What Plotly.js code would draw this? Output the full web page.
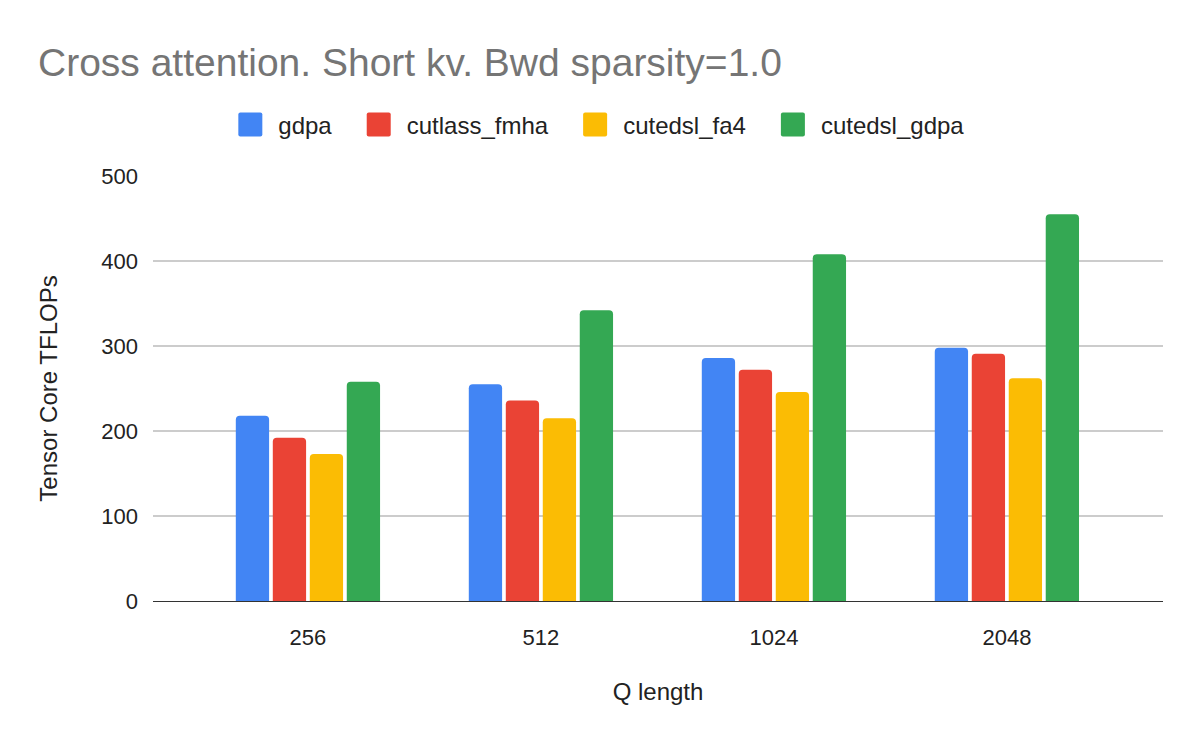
<!DOCTYPE html>
<html>
<head>
<meta charset="utf-8">
<script src="https://cdn.plot.ly/plotly-3.0.1.min.js"></script>
<style>
  html, body { margin: 0; padding: 0; background: #fff; }
  #chart { width: 1200px; height: 742px; }
</style>
</head>
<body>
<div id="chart"></div>
<script>
const qLengths = ["256", "512", "1024", "2048"];
const gdpa = [218, 255, 286, 298];
const cutlassFmha = [192, 236, 272, 291];
const cutedslFa4 = [173, 215, 246, 262];
const cutedslGdpa = [258, 342, 408, 455];

const seriesNames = ["gdpa", "cutlass_fmha", "cutedsl_fa4", "cutedsl_gdpa"];
const seriesColors = ["#4285f4", "#ea4335", "#fbbc04", "#34a853"];
const seriesValues = [gdpa, cutlassFmha, cutedslFa4, cutedslGdpa];

const font = "Arial, 'Liberation Sans', sans-serif";

const data = seriesValues.map((vals, i) => ({
  x: qLengths,
  y: vals,
  name: seriesNames[i],
  type: "bar",
  marker: { color: seriesColors[i], cornerradius: 4 },
}));

const layout = {
  width: 1200,
  height: 742,
  margin: { l: 153, r: 37, t: 176, b: 141 },
  paper_bgcolor: "#fff",
  plot_bgcolor: "#fff",
  font: { family: font, size: 22, color: "#222" },
  title: {
    text: "Cross attention. Short kv. Bwd sparsity=1.0",
    font: { family: font, size: 39, color: "#757575" },
    x: 38 / 1200, xref: "container", xanchor: "left",
    y: 1, yref: "container", yanchor: "top",
    pad: { t: 49 },
    automargin: false,
  },
  barmode: "group",
  bargap: 0.365,
  bargroupgap: 0.1,
  showlegend: true,
  legend: {
    orientation: "h",
    x: 0.5, xref: "container", xanchor: "center",
    y: 1 - 125 / 742, yref: "container", yanchor: "middle",
    font: { family: font, size: 24, color: "#222" },
    itemwidth: 30,
    traceorder: "normal",
  },
  xaxis: {
    type: "category",
    range: [-0.665, 3.67],
    showgrid: false,
    showline: true,
    linecolor: "#333",
    linewidth: 1.3,
    ticks: "",
    tickfont: { family: font, size: 22, color: "#222" },
    ticklabelstandoff: 16,
    title: { text: "Q length", font: { family: font, size: 24, color: "#222" }, standoff: 34 },
  },
  yaxis: {
    range: [0, 500],
    tickvals: [0, 100, 200, 300, 400, 500],
    showgrid: true,
    gridcolor: "#cccccc",
    gridwidth: 1.3,
    zeroline: false,
    ticks: "",
    tickfont: { family: font, size: 22, color: "#222" },
    ticklabelstandoff: 14,
    title: { text: "Tensor Core TFLOPs", font: { family: font, size: 24, color: "#222" }, standoff: 36 },
  },
};

Plotly.newPlot("chart", data, layout, { displayModeBar: false, staticPlot: true }).then((gd) => {
  // legend swatches in the reference are larger squares with slight rounding
  gd.querySelectorAll(".legend .legendpoints path").forEach((p) => {
    const t = p.getAttribute("transform") || "";
    p.setAttribute("d", "M-5,-6H5A1,1 0 0 1 6,-5V5A1,1 0 0 1 5,6H-5A1,1 0 0 1 -6,5V-5A1,1 0 0 1 -5,-6Z");
    p.setAttribute("transform", t + " translate(-8,0) scale(2)");
  });

  // wider spacing between legend entries, centred on the page
  const legend = gd.querySelector(".legend");
  const items = Array.from(legend.querySelectorAll(".traces"));
  const widths = items.map((g) => g.querySelector(".legendtext").getComputedTextLength());
  const offsets = [0];
  for (let i = 1; i < items.length; i++) {
    offsets.push(offsets[i - 1] + 40 + widths[i - 1] + 35);
  }
  const total = offsets[items.length - 1] + 40 + widths[items.length - 1];
  const start = 601 - total / 2;
  const parentX = items[0].parentNode.getCTM().e;
  items.forEach((g, i) => {
    const m = /translate\(\s*[-\d.]+\s*[, ]\s*([-\d.]+)/.exec(g.getAttribute("transform") || "");
    const y = m ? m[1] : 0;
    g.setAttribute("transform", `translate(${start - parentX + offsets[i]},${y})`);
  });
  const box = legend.querySelector(".scrollbox");
  if (box) box.removeAttribute("clip-path");
});
</script>
</body>
</html>
